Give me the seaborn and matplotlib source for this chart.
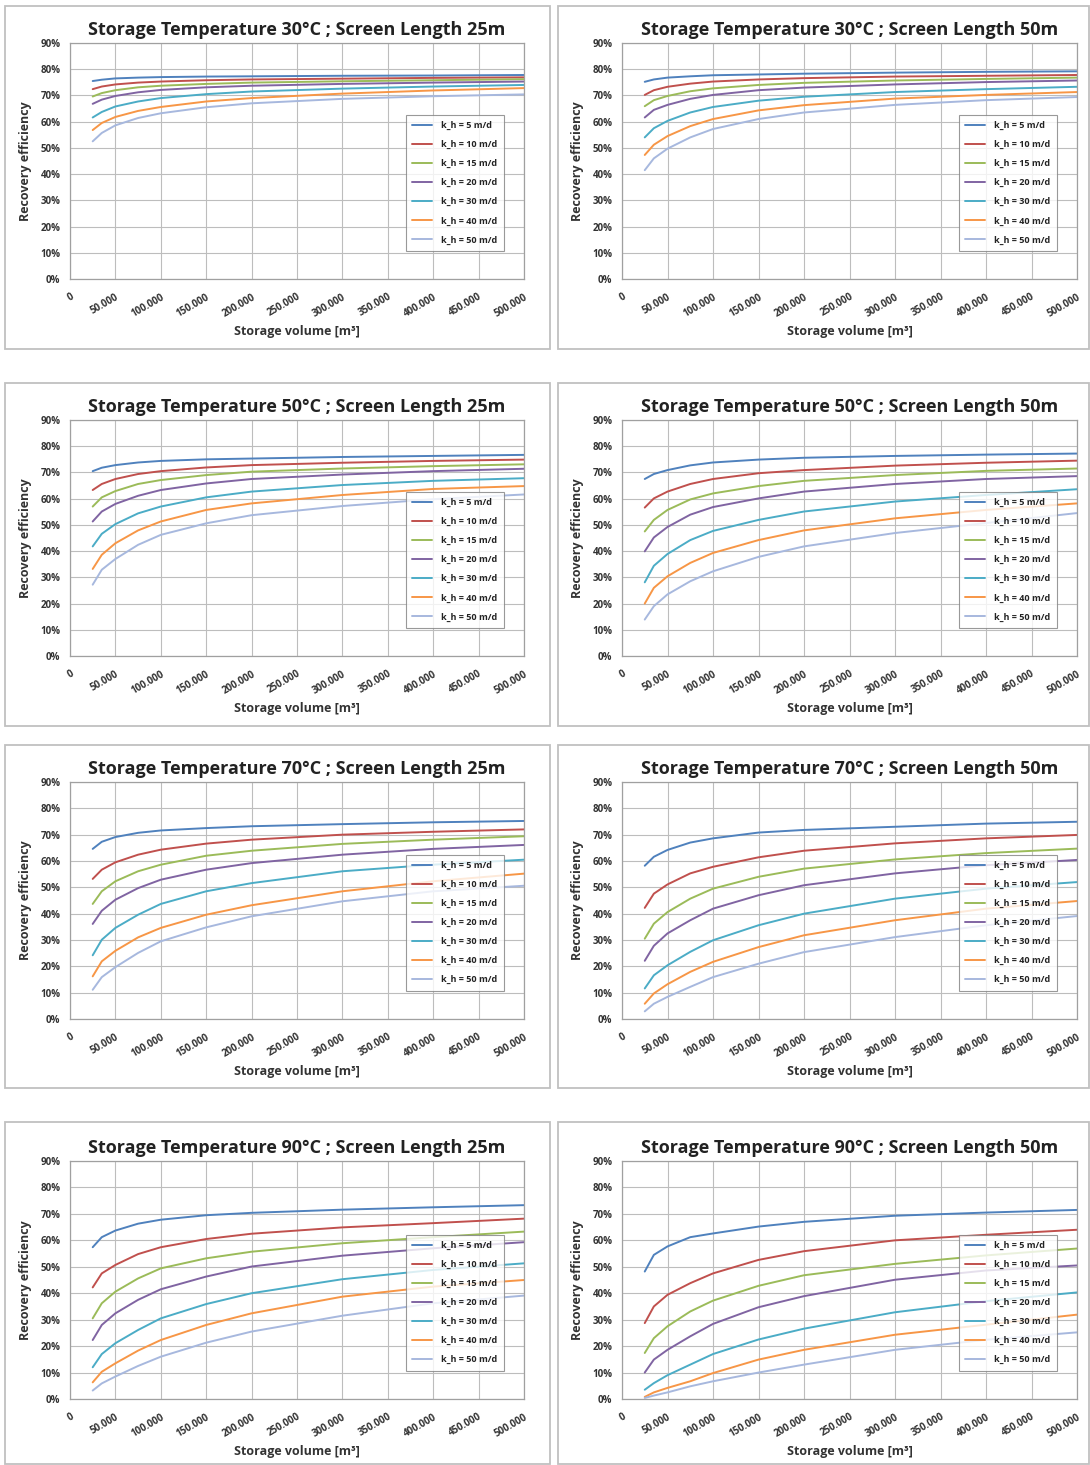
import pandas as pd
import matplotlib.pyplot as plt
import matplotlib.ticker as mticker
from matplotlib.patches import Rectangle
import seaborn as sns

sns.set_theme(style="white")
plt.rcParams['font.family'] = ['Open Sans', 'DejaVu Sans']

volume = [25000, 35000, 50000, 75000, 100000, 150000, 200000, 300000, 400000, 500000]
kh_labels = ["k_h = 5 m/d", "k_h = 10 m/d", "k_h = 15 m/d", "k_h = 20 m/d",
             "k_h = 30 m/d", "k_h = 40 m/d", "k_h = 50 m/d"]
kh_colors = ["#4f81bd", "#c0504d", "#9bbb59", "#8064a2", "#4bacc6", "#f79646", "#a7b8de"]

# recovery efficiency [%], one row per k_h
eff_30_25 = [
    [75.5, 76.0, 76.5, 76.8, 77.0, 77.2, 77.3, 77.5, 77.6, 77.8],
    [72.4, 73.4, 74.2, 74.9, 75.3, 75.8, 76.1, 76.4, 76.7, 76.9],
    [69.6, 70.9, 72.0, 73.1, 73.7, 74.4, 74.9, 75.4, 75.8, 76.2],
    [66.8, 68.4, 69.8, 71.2, 72.1, 73.1, 73.7, 74.4, 74.9, 75.3],
    [61.6, 63.7, 65.8, 67.7, 69.0, 70.5, 71.5, 72.6, 73.4, 74.0],
    [56.8, 59.5, 61.8, 64.1, 65.6, 67.7, 69.0, 70.7, 71.9, 72.8],
    [52.5, 55.7, 58.6, 61.4, 63.2, 65.5, 67.0, 68.7, 69.7, 70.4],
]
eff_30_50 = [
    [75.2, 76.1, 76.8, 77.3, 77.7, 78.0, 78.3, 78.7, 79.0, 79.2],
    [70.2, 72.0, 73.3, 74.5, 75.3, 76.1, 76.6, 77.2, 77.5, 77.8],
    [65.9, 68.2, 69.8, 71.6, 72.7, 74.0, 74.8, 75.7, 76.3, 76.8],
    [61.6, 64.5, 66.4, 68.7, 70.2, 72.0, 73.0, 74.2, 75.1, 75.7],
    [54.0, 57.5, 60.3, 63.5, 65.6, 68.0, 69.5, 71.3, 72.4, 73.3],
    [47.3, 51.2, 54.5, 58.3, 61.0, 64.3, 66.3, 68.8, 70.2, 71.3],
    [41.5, 46.0, 49.7, 54.0, 57.2, 61.0, 63.5, 66.4, 68.2, 69.4],
]
eff_50_25 = [
    [70.5, 71.8, 72.8, 73.8, 74.4, 75.0, 75.3, 75.9, 76.3, 76.7],
    [63.3, 65.6, 67.5, 69.4, 70.5, 71.9, 72.8, 73.7, 74.4, 74.9],
    [57.0, 60.5, 62.9, 65.6, 67.1, 69.0, 70.3, 71.5, 72.4, 73.1],
    [51.3, 55.1, 58.0, 61.1, 63.3, 65.8, 67.5, 69.2, 70.5, 71.4],
    [41.8, 46.6, 50.3, 54.4, 57.0, 60.5, 62.7, 65.2, 66.8, 67.8],
    [33.2, 38.6, 43.0, 47.9, 51.3, 55.7, 58.2, 61.4, 63.7, 64.8],
    [27.2, 32.9, 37.0, 42.4, 46.2, 50.6, 53.7, 57.2, 59.8, 61.6],
]
eff_50_50 = [
    [67.5, 69.4, 70.9, 72.7, 73.8, 74.9, 75.6, 76.3, 76.8, 77.2],
    [56.6, 60.1, 62.7, 65.6, 67.5, 69.7, 70.9, 72.6, 73.7, 74.5],
    [47.5, 51.9, 55.7, 59.7, 62.0, 64.8, 66.8, 69.0, 70.6, 71.5],
    [39.9, 45.2, 49.2, 53.9, 56.8, 60.1, 62.7, 65.6, 67.5, 68.6],
    [28.1, 34.4, 38.9, 44.2, 47.7, 51.9, 55.1, 58.9, 61.4, 63.6],
    [20.0, 26.0, 30.4, 35.5, 39.3, 44.2, 47.9, 52.5, 55.7, 58.2],
    [13.9, 19.0, 23.5, 28.5, 32.3, 37.8, 41.8, 46.9, 50.7, 54.5],
]
eff_70_25 = [
    [64.6, 67.3, 69.1, 70.7, 71.6, 72.5, 73.2, 74.0, 74.7, 75.2],
    [53.2, 56.7, 59.5, 62.4, 64.3, 66.6, 68.1, 70.0, 71.1, 72.0],
    [43.7, 48.5, 52.3, 56.1, 58.6, 62.0, 63.9, 66.5, 68.1, 69.4],
    [36.1, 41.1, 45.3, 49.7, 52.9, 56.7, 59.2, 62.4, 64.6, 66.1],
    [24.2, 30.1, 34.6, 39.6, 43.7, 48.5, 51.6, 56.1, 58.6, 60.5],
    [16.2, 21.9, 25.9, 31.0, 34.6, 39.6, 43.2, 48.5, 52.3, 55.2],
    [11.1, 15.9, 19.7, 25.1, 29.5, 34.8, 39.0, 44.7, 48.5, 50.6],
]
eff_70_50 = [
    [58.2, 61.6, 64.2, 67.0, 68.6, 70.8, 71.8, 73.0, 74.2, 74.9],
    [42.2, 47.6, 51.1, 55.3, 57.8, 61.4, 63.9, 66.7, 68.6, 69.9],
    [30.5, 36.2, 40.6, 45.7, 49.5, 54.0, 57.1, 60.6, 63.0, 64.7],
    [22.1, 27.8, 32.5, 37.5, 41.9, 47.0, 50.8, 55.3, 58.4, 60.4],
    [11.6, 16.6, 20.4, 25.5, 29.9, 35.6, 40.0, 45.7, 49.5, 52.0],
    [5.8, 9.7, 13.2, 17.9, 21.7, 27.3, 31.8, 37.5, 41.9, 44.8],
    [2.9, 5.8, 8.4, 12.2, 15.9, 21.0, 25.4, 31.1, 35.6, 39.1],
]
eff_90_25 = [
    [57.4, 61.2, 63.7, 66.3, 67.8, 69.5, 70.4, 71.6, 72.5, 73.3],
    [42.2, 47.5, 50.7, 54.8, 57.4, 60.5, 62.5, 64.9, 66.5, 68.2],
    [30.5, 36.2, 40.6, 45.6, 49.4, 53.2, 55.7, 58.9, 61.2, 63.3],
    [22.3, 28.0, 32.4, 37.5, 41.5, 46.3, 50.1, 54.2, 57.0, 59.3],
    [12.0, 17.0, 21.1, 26.1, 30.5, 35.9, 40.0, 45.3, 48.8, 51.3],
    [6.3, 10.3, 13.5, 18.3, 22.3, 28.0, 32.4, 38.7, 42.5, 45.0],
    [3.2, 5.9, 8.5, 12.5, 16.0, 21.3, 25.5, 31.5, 36.2, 39.1],
]
eff_90_50 = [
    [48.2, 54.5, 57.7, 61.2, 62.6, 65.2, 67.0, 69.3, 70.5, 71.5],
    [28.7, 35.0, 39.4, 43.8, 47.5, 52.6, 55.9, 60.0, 62.1, 64.0],
    [17.4, 23.0, 27.5, 33.1, 37.2, 42.8, 46.8, 51.1, 54.3, 56.9],
    [10.0, 14.9, 18.6, 23.7, 28.4, 34.7, 38.9, 45.1, 48.6, 50.5],
    [3.5, 6.0, 9.0, 13.0, 17.0, 22.5, 26.6, 32.8, 37.0, 40.3],
    [0.8, 2.5, 4.2, 6.7, 9.8, 14.9, 18.6, 24.3, 28.1, 31.9],
    [0.4, 1.3, 2.5, 4.8, 6.7, 10.0, 13.0, 18.6, 22.4, 25.2],
]

panels = [
    ("30", "25", eff_30_25), ("30", "50", eff_30_50),
    ("50", "25", eff_50_25), ("50", "50", eff_50_50),
    ("70", "25", eff_70_25), ("70", "50", eff_70_50),
    ("90", "25", eff_90_25), ("90", "50", eff_90_50),
]

W, H = 1090, 1465
fig = plt.figure(figsize=(W / 100, H / 100), dpi=100)

# pixel layout of each panel (box and axes)
row_tops = [6, 383, 745, 1122]
axes_y = [(43, 279), (420, 656), (782, 1019), (1161, 1399)]
box_x = [(5, 550), (558, 1089)]
axes_x = [(70, 524), (622, 1077)]


def px_rect(x0, y0, x1, y1):
    return [x0 / W, 1 - y1 / H, (x1 - x0) / W, (y1 - y0) / H]


for i, (temp, screen, eff) in enumerate(panels):
    row, col = divmod(i, 2)
    bx0, bx1 = box_x[col]
    by0 = row_tops[row]
    by1 = by0 + 343 if row < 3 else 1464
    fig.patches.append(Rectangle((bx0 / W, 1 - by1 / H), (bx1 - bx0) / W, (by1 - by0) / H,
                                 transform=fig.transFigure, fill=False,
                                 edgecolor="#c0c0c0", linewidth=1.3))

    ax0, ax1 = axes_x[col]
    ay0, ay1 = axes_y[row]
    ax = fig.add_axes(px_rect(ax0, ay0, ax1, ay1))

    df = pd.DataFrame({
        "volume": volume * len(kh_labels),
        "eff": [v for series in eff for v in series],
        "kh": [lab for lab in kh_labels for _ in volume],
    })
    sns.lineplot(data=df, x="volume", y="eff", hue="kh", hue_order=kh_labels,
                 palette=kh_colors, linewidth=1.4, ax=ax)

    ax.set_xlim(0, 500000)
    ax.set_ylim(0, 90)
    ax.xaxis.set_major_locator(mticker.MultipleLocator(50000))
    ax.xaxis.set_minor_locator(mticker.MultipleLocator(25000))
    ax.yaxis.set_major_locator(mticker.MultipleLocator(10))
    ax.xaxis.set_major_formatter(mticker.FuncFormatter(
        lambda v, p: "0" if v == 0 else f"{int(v):,}".replace(",", ".")))
    ax.yaxis.set_major_formatter(mticker.FuncFormatter(lambda v, p: f"{int(v)}%"))
    ax.grid(True, which="major", color="#bdbdbd", linewidth=0.8)
    ax.set_axisbelow(True)
    for s in ax.spines.values():
        s.set_color("#a0a0a0")
        s.set_linewidth(0.9)
    ax.tick_params(axis="both", which="both", direction="out", color="#808080",
                   length=4, width=0.8, labelsize=7, pad=3)
    ax.tick_params(axis="x", which="minor", length=3)
    ax.tick_params(axis="x", which="major", pad=5)
    for lab in ax.get_xticklabels():
        lab.set_rotation(30)
        lab.set_ha("right")
        lab.set_rotation_mode("anchor")
        lab.set_fontweight("bold")
        lab.set_color("#333333")
    for lab in ax.get_yticklabels():
        lab.set_fontweight("bold")
        lab.set_color("#333333")

    ax.set_xlabel("Storage volume [m³]", fontsize=9, fontweight="bold", color="#333333", labelpad=4)
    ax.set_ylabel("Recovery efficiency", fontsize=9, fontweight="bold", color="#333333", labelpad=6)
    ax.set_title(f"Storage Temperature {temp}°C ; Screen Length {screen}m",
                 fontsize=13, fontweight="bold", color="#222222", pad=6)

    leg = ax.legend(loc="lower right", bbox_to_anchor=(0.965, 0.10), fontsize=6.5,
                    frameon=True, fancybox=False, handlelength=2.2, labelspacing=1.1,
                    borderpad=0.7, handletextpad=1.0)
    leg.get_frame().set_edgecolor("#808080")
    leg.get_frame().set_linewidth(0.8)
    for t in leg.get_texts():
        t.set_fontweight("bold")
        t.set_color("#222222")

fig.savefig("out.png", dpi=100, facecolor="white")
